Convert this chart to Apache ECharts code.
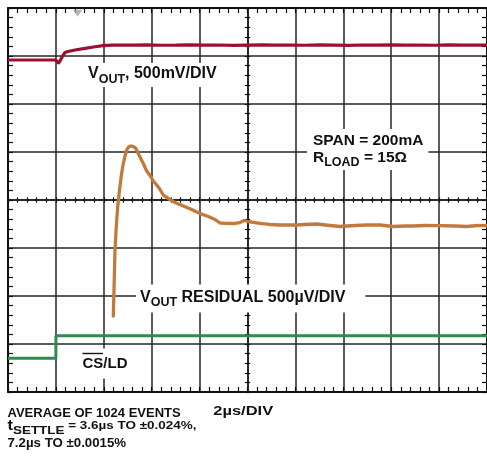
<!DOCTYPE html>
<html>
<head>
<meta charset="utf-8">
<script src="https://cdn.jsdelivr.net/npm/echarts@6/dist/echarts.min.js"></script>
<style>
  html, body { margin: 0; padding: 0; background: #fff; }
  #chart { width: 487px; height: 456px; }
</style>
</head>
<body>
<div id="chart"></div>
<script>
// Scope capture: time in µs (2 µs/DIV, 10 DIV), traces in screen divisions (0..8, bottom to top)
const timeRange = [0, 20];
const divRange = [0, 8];

// V_OUT, 500mV/DIV
const voutTime = [0, 2.0, 2.067, 2.109, 2.171, 2.255, 2.38, 2.505, 2.797, 3.215, 3.633, 3.967, 4.342, 4.676,
  5.2, 5.8, 6.4, 7.0, 7.6, 8.2, 8.8, 9.4, 10.0, 10.6, 11.2, 11.8, 12.4, 13.0, 13.6, 14.2, 14.8,
  15.4, 16.0, 16.6, 17.2, 17.8, 18.4, 19.0, 19.6, 20.0];
const voutDiv = [6.917, 6.917, 6.885, 6.848, 6.896, 6.979, 7.073, 7.094, 7.125, 7.160, 7.192, 7.215, 7.225, 7.229,
  7.226, 7.231, 7.224, 7.228, 7.233, 7.225, 7.229, 7.222, 7.228, 7.232, 7.226, 7.229, 7.224, 7.230, 7.227, 7.223,
  7.229, 7.226, 7.231, 7.225, 7.228, 7.224, 7.230, 7.226, 7.228, 7.227];

// V_OUT residual, 500µV/DIV
const residualTime = [4.397, 4.426, 4.451, 4.468, 4.501, 4.539, 4.589, 4.656, 4.735, 4.802, 4.885, 4.956, 4.990,
  5.031, 5.073, 5.123, 5.177, 5.219, 5.261, 5.303, 5.374, 5.470, 5.553, 5.649, 5.791, 5.929, 6.054, 6.209,
  6.347, 6.484, 6.764, 7.044, 7.319, 7.670, 8.017, 8.363, 8.643, 8.852, 9.102, 9.395, 9.687, 9.854, 10.021,
  10.313, 10.605, 10.939, 11.357, 12.054, 12.401, 12.889, 13.445, 13.862, 14.489, 14.977, 15.532, 16.075,
  16.576, 16.910, 17.411, 18.038, 18.664, 19.152, 19.624, 20.0];
const residualDiv = [1.583, 2.125, 2.646, 2.958, 3.271, 3.583, 3.896, 4.208, 4.521, 4.729, 4.917, 5.042, 5.077,
  5.104, 5.117, 5.125, 5.123, 5.115, 5.106, 5.094, 5.042, 4.938, 4.854, 4.760, 4.604, 4.510, 4.406, 4.313,
  4.219, 4.104, 4.010, 3.931, 3.875, 3.802, 3.719, 3.656, 3.594, 3.521, 3.515, 3.510, 3.531, 3.573, 3.552,
  3.531, 3.510, 3.490, 3.479, 3.479, 3.490, 3.500, 3.469, 3.448, 3.469, 3.479, 3.479, 3.448,
  3.458, 3.458, 3.469, 3.465, 3.458, 3.448, 3.469, 3.465];

// CS/LD logic step
const csldTime = [0, 2.0, 2.0, 20];
const csldDiv = [0.702, 0.702, 1.173, 1.173];

// trigger marker on the top edge
const triggerMark = [2.91, 7.89];

const zip = (xs, ys) => xs.map((x, i) => [x, ys[i]]);

const GRID_COLOR = '#262626';
const BORDER = { show: true, onZero: false, lineStyle: { color: '#111', width: 2 } };
const CENTER_LINE = { show: true, onZero: false, lineStyle: { color: GRID_COLOR, width: 1.5 } };
const noLabel = { show: false };

function xAx(opts) {
  return Object.assign({
    type: 'value', min: timeRange[0], max: timeRange[1], interval: 2,
    axisLabel: noLabel, splitLine: { show: false }
  }, opts);
}
function yAx(opts) {
  return Object.assign({
    type: 'value', min: divRange[0], max: divRange[1], interval: 1,
    axisLabel: noLabel, splitLine: { show: false }
  }, opts);
}
const tick = (len, inside) => ({ show: true, inside: inside, length: len, lineStyle: { color: '#111', width: 1.2 } });
const minor = (len) => ({ show: true, splitNumber: 5, length: len, lineStyle: { color: '#111', width: 1.2 } });

const bold = 'bold';
const sans = 'Liberation Sans';
const big = (size) => ({ fontSize: size, fontWeight: bold, fontFamily: sans, fill: '#111' });

const chart = echarts.init(document.getElementById('chart'), null, { renderer: 'canvas' });
chart.setOption({
  animation: false,
  backgroundColor: '#fff',
  grid: { left: 8, top: 8, width: 479, height: 384, show: false },
  xAxis: [
    xAx({ position: 'bottom', axisLine: BORDER, axisTick: tick(5, true), minorTick: minor(5),
      splitLine: { show: true, lineStyle: { color: GRID_COLOR, width: 1.5 } } }),
    xAx({ position: 'top', axisLine: BORDER, axisTick: tick(5, true), minorTick: minor(5) }),
    xAx({ position: 'bottom', offset: -192, axisLine: CENTER_LINE, axisTick: tick(2.7, true), minorTick: minor(2.7) }),
    xAx({ position: 'bottom', offset: -192, axisLine: CENTER_LINE, axisTick: tick(2.7, false), minorTick: minor(2.7) })
  ],
  yAxis: [
    yAx({ position: 'left', axisLine: BORDER, axisTick: tick(5, true), minorTick: minor(5),
      splitLine: { show: true, lineStyle: { color: GRID_COLOR, width: 1.5 } } }),
    yAx({ position: 'right', axisLine: BORDER, axisTick: tick(5, true), minorTick: minor(5) }),
    yAx({ position: 'left', offset: -239.5, axisLine: CENTER_LINE, axisTick: tick(2.7, true), minorTick: minor(2.7) }),
    yAx({ position: 'left', offset: -239.5, axisLine: CENTER_LINE, axisTick: tick(2.7, false), minorTick: minor(2.7) })
  ],
  series: [
    { type: 'line', name: 'VOUT', data: zip(voutTime, voutDiv), showSymbol: false, z: 3,
      lineStyle: { color: '#9c0f32', width: 3.2 } },
    { type: 'line', name: 'VOUT RESIDUAL', data: zip(residualTime, residualDiv), showSymbol: false, z: 3,
      lineStyle: { color: '#c27a3c', width: 3.3, join: 'round', cap: 'round' } },
    { type: 'line', name: 'CS/LD', data: zip(csldTime, csldDiv), showSymbol: false, z: 3,
      lineStyle: { color: '#2f8a4e', width: 3 } },
    { type: 'scatter', name: 'trigger', data: [triggerMark], symbol: 'triangle', symbolRotate: 180,
      symbolSize: [9, 7], itemStyle: { color: '#a3a3a3' }, z: 3 }
  ],
  graphic: [
    { type: 'text', x: 82, y: 63, z: 1, style: {
      text: '{v|V}{s|OUT}{v|, 500mV/DIV}', backgroundColor: '#fff', padding: [3, 6, 3, 6],
      rich: { v: Object.assign(big(16), { lineHeight: 18, verticalAlign: 'top' }),
              s: Object.assign(big(12.5), { lineHeight: 14, padding: [7, 0, 0, 0], verticalAlign: 'top' }) } } },
    { type: 'text', x: 307, y: 129, z: 1, style: {
      text: '{v|SPAN = 200mA}\n{v|R}{s|LOAD}{v| = 15Ω}', backgroundColor: '#fff', padding: [4, 5, 3, 6],
      rich: { v: Object.assign(big(15.5), { lineHeight: 17, verticalAlign: 'top' }),
              s: Object.assign(big(12.5), { lineHeight: 14, padding: [6, 0, 0, 0], verticalAlign: 'top' }) } } },
    { type: 'text', x: 136, y: 284.5, z: 1, style: {
      text: '{v|V}{s|OUT}{v| RESIDUAL 500µV/DIV}', backgroundColor: '#fff', padding: [5, 20, 5, 4],
      rich: { v: Object.assign(big(16), { lineHeight: 18, verticalAlign: 'top' }),
              s: Object.assign(big(12.5), { lineHeight: 14, padding: [7, 0, 0, 0], verticalAlign: 'top' }) } } },
    { type: 'text', x: 77, y: 363.5, z: 1, style: {
      text: 'CS/LD', backgroundColor: '#fff', padding: [7, 6, 7, 5.5], lineHeight: 16,
      verticalAlign: 'middle', font: 'bold 15px "Liberation Sans"', fill: '#111' } },
    { type: 'line', z: 2, shape: { x1: 82.5, y1: 353.5, x2: 103, y2: 353.5 },
      style: { stroke: '#111', lineWidth: 1.4 } },
    { type: 'text', x: 7.5, y: 413.5, style: {
      text: 'AVERAGE OF 1024 EVENTS', verticalAlign: 'middle',
      font: 'bold 13px "Liberation Sans"', fill: '#111' } },
    { type: 'text', x: 213.3, y: 411.2, scaleX: 1.22, style: {
      text: '2µs/DIV', verticalAlign: 'middle',
      font: 'bold 13.5px "Liberation Sans"', fill: '#111' } },
    { type: 'text', x: 7.5, y: 419.6, scaleX: 1.17, style: {
      text: '{t|t}{s|SETTLE}{r| = 3.6µs TO ±0.024%,}',
      rich: { t: Object.assign(big(14), { lineHeight: 12, verticalAlign: 'top' }),
              s: Object.assign(big(11.5), { lineHeight: 14, padding: [5, 0, 0, 0], verticalAlign: 'top' }),
              r: Object.assign(big(11.5), { lineHeight: 14, verticalAlign: 'top' }) } } },
    { type: 'text', x: 7.5, y: 443, scaleX: 1.02, style: {
      text: '7.2µs TO ±0.0015%', verticalAlign: 'middle',
      font: 'bold 13px "Liberation Sans"', fill: '#111' } }
  ]
});
</script>
</body>
</html>
